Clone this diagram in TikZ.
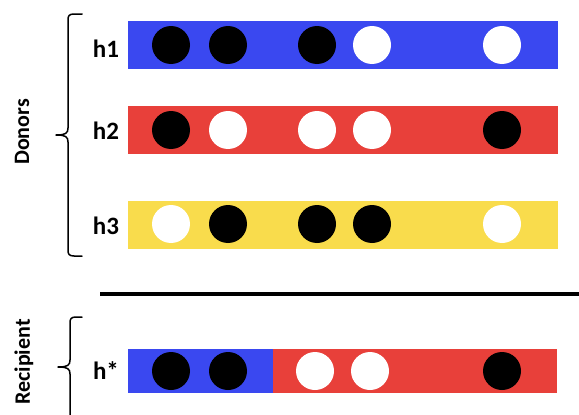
\documentclass[tikz,border=0pt]{standalone}
\usepackage{fontspec}
\setmainfont{Carlito}
\definecolor{hblue}{RGB}{58,72,240}
\definecolor{hred}{RGB}{232,64,58}
\definecolor{hyellow}{RGB}{249,220,76}
\begin{document}
\begin{tikzpicture}[x=1pt,y=-1pt,
  lab/.style={font=\bfseries\fontsize{25}{25}\selectfont, anchor=center, inner sep=0pt},
  side/.style={font=\bfseries\fontsize{22}{22}\selectfont, rotate=90, anchor=center, inner sep=0pt},
  blk/.style={fill=black},
  wht/.style={fill=white},
  brace/.style={line width=1.5pt, line cap=round, line join=round}]
\useasboundingbox (0,0) rectangle (579,415);
% bars
\fill[hblue] (128,21) rectangle (558,69);
\fill[hred] (128,106) rectangle (558,154);
\fill[hyellow] (128,201) rectangle (558,249);
\fill[hblue] (128,349) rectangle (273,393);
\fill[hred] (273,349) rectangle (557,393);
\def\r{19}
% h1
\fill[blk] (171,45) circle (\r);
\fill[blk] (228,45) circle (\r);
\fill[blk] (317,45) circle (\r);
\fill[wht] (372,45) circle (\r);
\fill[wht] (502,45) circle (\r);
% h2
\fill[blk] (171,130) circle (\r);
\fill[wht] (228,130) circle (\r);
\fill[wht] (317,130) circle (\r);
\fill[wht] (372,130) circle (\r);
\fill[blk] (502,130) circle (\r);
% h3
\fill[wht] (171,224) circle (\r);
\fill[blk] (228,224) circle (\r);
\fill[blk] (317,224) circle (\r);
\fill[blk] (372,224) circle (\r);
\fill[wht] (502,224) circle (\r);
% h*
\fill[blk] (171,371) circle (\r);
\fill[blk] (228,371) circle (\r);
\fill[wht] (315,371) circle (\r);
\fill[wht] (370,371) circle (\r);
\fill[blk] (502,371) circle (\r);
% labels
\node[lab] (h1) at (106,49) {h1};
\node[lab] (h2) at (106,131) {h2};
\node[lab] (h3) at (106,226) {h3};
\node[lab] (hs) at (106,371) {h*};
\node[side] (donors) at (22,132) {Donors};
\node[side] (recip) at (24,362) {Recipient};
% separator
\draw[line width=4pt] (100,294) -- (579,294);
% braces
\draw[brace] (82,14) -- (74,14) .. controls (69,14) and (68,16) .. (68,20) -- (68,128)
  .. controls (68,133) and (66,135) .. (56,135)
  .. controls (66,135) and (68,137) .. (68,142) -- (68,250)
  .. controls (68,254) and (69,256) .. (74,256) -- (82,256);
\draw[brace] (82,317) -- (76,317) .. controls (71,317) and (70,319) .. (70,323) -- (70,360)
  .. controls (70,365) and (68,367) .. (58,367)
  .. controls (68,367) and (70,369) .. (70,374) -- (70,416);
\end{tikzpicture}
\end{document}
